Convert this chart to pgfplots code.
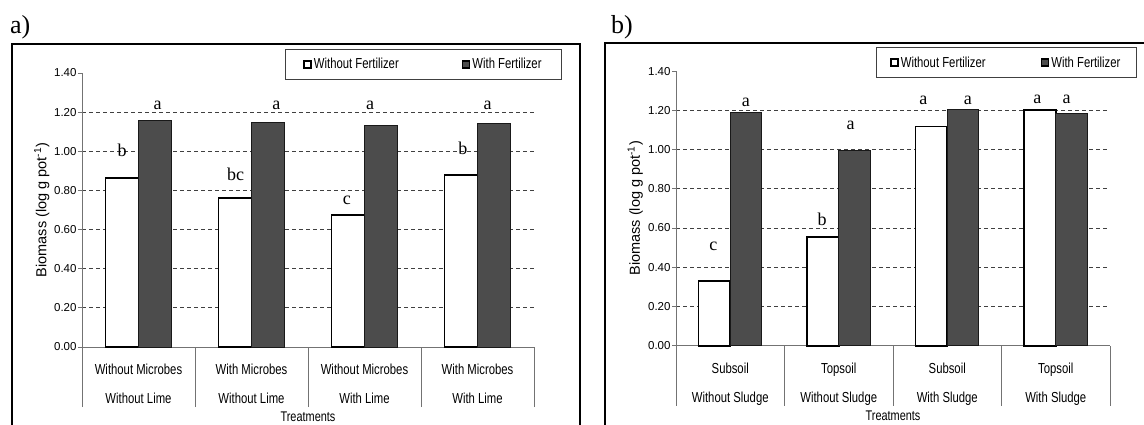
\documentclass[border=0pt]{standalone}
\usepackage{pgfplots}
\pgfplotsset{compat=1.18}
\usepackage{fontspec}
\setmainfont{Liberation Sans}
\newfontfamily\condfont{Liberation Sans}[FakeStretch=0.78]
\newfontfamily\serifletters{Liberation Serif}

\tikzset{lett/.style={font=\serifletters\fontsize{18}{18}\selectfont, anchor=base, inner sep=0pt}}

\pgfplotsset{
  panel/.style={
    scale only axis, anchor=south west,
    xmin=-0.5, xmax=3.5, ymin=0, ymax=1.4,
    axis lines*=left,
    axis line style={draw=black!55, line width=0.9pt},
    tick align=outside,
    xtick={-0.5,0.5,1.5,2.5,3.5},
    x tick label as interval,
    xtick style={draw=black!55, line width=0.9pt, /pgfplots/major tick length=60pt},
    ytick={0.2,0.4,0.6,0.8,1.0,1.2},
    extra y ticks={0,1.4},
    extra y tick style={grid=none},
    ytick style={draw=black!55, line width=0.9pt, /pgfplots/major tick length=4pt},
    ymajorgrids,
    major grid style={black!75, line width=0.9pt, dash pattern=on 4pt off 3pt},
    yticklabel style={font=\fontsize{11.5}{12}\selectfont, inner xsep=1pt,
      /pgf/number format/fixed, /pgf/number format/fixed zerofill,
      /pgf/number format/precision=2, /pgf/number format/assume math mode=true},
    xticklabel style={font=\condfont\fontsize{14.5}{29}\selectfont, align=center, anchor=north, inner sep=0pt, yshift=-13pt},
    xlabel={Treatments},
    xlabel style={font=\condfont\fontsize{14}{14}\selectfont, at={(axis description cs:0.5,0)}, anchor=center, yshift=-70pt},
    ylabel={Biomass (log g pot\textsuperscript{-1})},
    ylabel style={font=\fontsize{14.5}{15}\selectfont, at={(axis description cs:-0.089,0.5)}, anchor=center},
    legend columns=2,
    legend style={at={(axis description cs:1.062,1.0876)}, anchor=north east, draw=black!75, line width=0.9pt,
      font=\condfont\fontsize{14.5}{15}\selectfont, inner xsep=18pt, inner ysep=7pt},
    clip=false,
  },
  whitebar/.style={ybar, bar width=0.292, bar shift=-0.146, fill=white, draw=black, line width=1.8pt,
    legend image code/.code={\draw[fill=white,draw=black,line width=1.5pt] (0pt,-3.5pt) rectangle (7pt,3.5pt);}},
  darkbar/.style={ybar, bar width=0.292, bar shift=0.146, fill=black!70, draw=black!90, line width=1pt,
    legend image code/.code={\draw[fill=black!70,draw=black,line width=1.5pt] (0pt,-3.5pt) rectangle (7pt,3.5pt);}},
}

\begin{document}
\begin{tikzpicture}[x=1pt,y=1pt]
\useasboundingbox (0,0) rectangle (1144,-425);
% frames
\draw[line width=1.6pt] (12,-425) -- (12,-44) -- (580,-44) -- (580,-425);
\draw[line width=1.6pt] (605,-425) -- (605,-43) -- (1144,-43);
\node[font=\serifletters\fontsize{26}{26}\selectfont, anchor=base west, inner sep=0pt] at (10,-34) {a)};
\node[font=\serifletters\fontsize{26}{26}\selectfont, anchor=base west, inner sep=0pt] at (611,-34) {b)};

% panel a
\begin{axis}[panel, at={(82pt,-347pt)}, width=452pt, height=274pt,
  xticklabels={{Without Microbes\\Without Lime},{With Microbes\\Without Lime},{Without Microbes\\With Lime},{With Microbes\\With Lime}}]
\addplot[whitebar] coordinates {(0,0.865) (1,0.76) (2,0.675) (3,0.88)};
\addlegendentry{\makebox[146pt][l]{Without Fertilizer}}
\addplot[darkbar] coordinates {(0,1.155) (1,1.145) (2,1.13) (3,1.14)};
\addlegendentry{With Fertilizer}
\node[lett] at (axis cs:-0.146,0.975) {b};
\node[lett] at (axis cs:0.17,1.215) {a};
\node[lett] at (axis cs:0.86,0.852) {bc};
\node[lett] at (axis cs:1.22,1.215) {a};
\node[lett] at (axis cs:1.845,0.73) {c};
\node[lett] at (axis cs:2.05,1.215) {a};
\node[lett] at (axis cs:2.87,0.985) {b};
\node[lett] at (axis cs:3.09,1.215) {a};
\end{axis}

% panel b
\begin{axis}[panel, at={(676pt,-345.6pt)}, width=434pt, height=274.5pt,
  ylabel style={at={(axis description cs:-0.094,0.5)}},
  legend style={inner xsep=14pt},
  xticklabels={{Subsoil\\Without Sludge},{Topsoil\\Without Sludge},{Subsoil\\With Sludge},{Topsoil\\With Sludge}}]
\addplot[whitebar] coordinates {(0,0.33) (1,0.553) (2,1.117) (3,1.20)};
\addlegendentry{\makebox[138pt][l]{Without Fertilizer}}
\addplot[darkbar] coordinates {(0,1.19) (1,0.995) (2,1.205) (3,1.185)};
\addlegendentry{With Fertilizer}
\node[lett] at (axis cs:-0.155,0.487) {c};
\node[lett] at (axis cs:0.145,1.219) {a};
\node[lett] at (axis cs:0.846,0.614) {b};
\node[lett] at (axis cs:1.11,1.10) {a};
\node[lett] at (axis cs:1.78,1.23) {a};
\node[lett] at (axis cs:2.19,1.23) {a};
\node[lett] at (axis cs:2.83,1.235) {a};
\node[lett] at (axis cs:3.10,1.235) {a};
\end{axis}
\end{tikzpicture}
\end{document}
